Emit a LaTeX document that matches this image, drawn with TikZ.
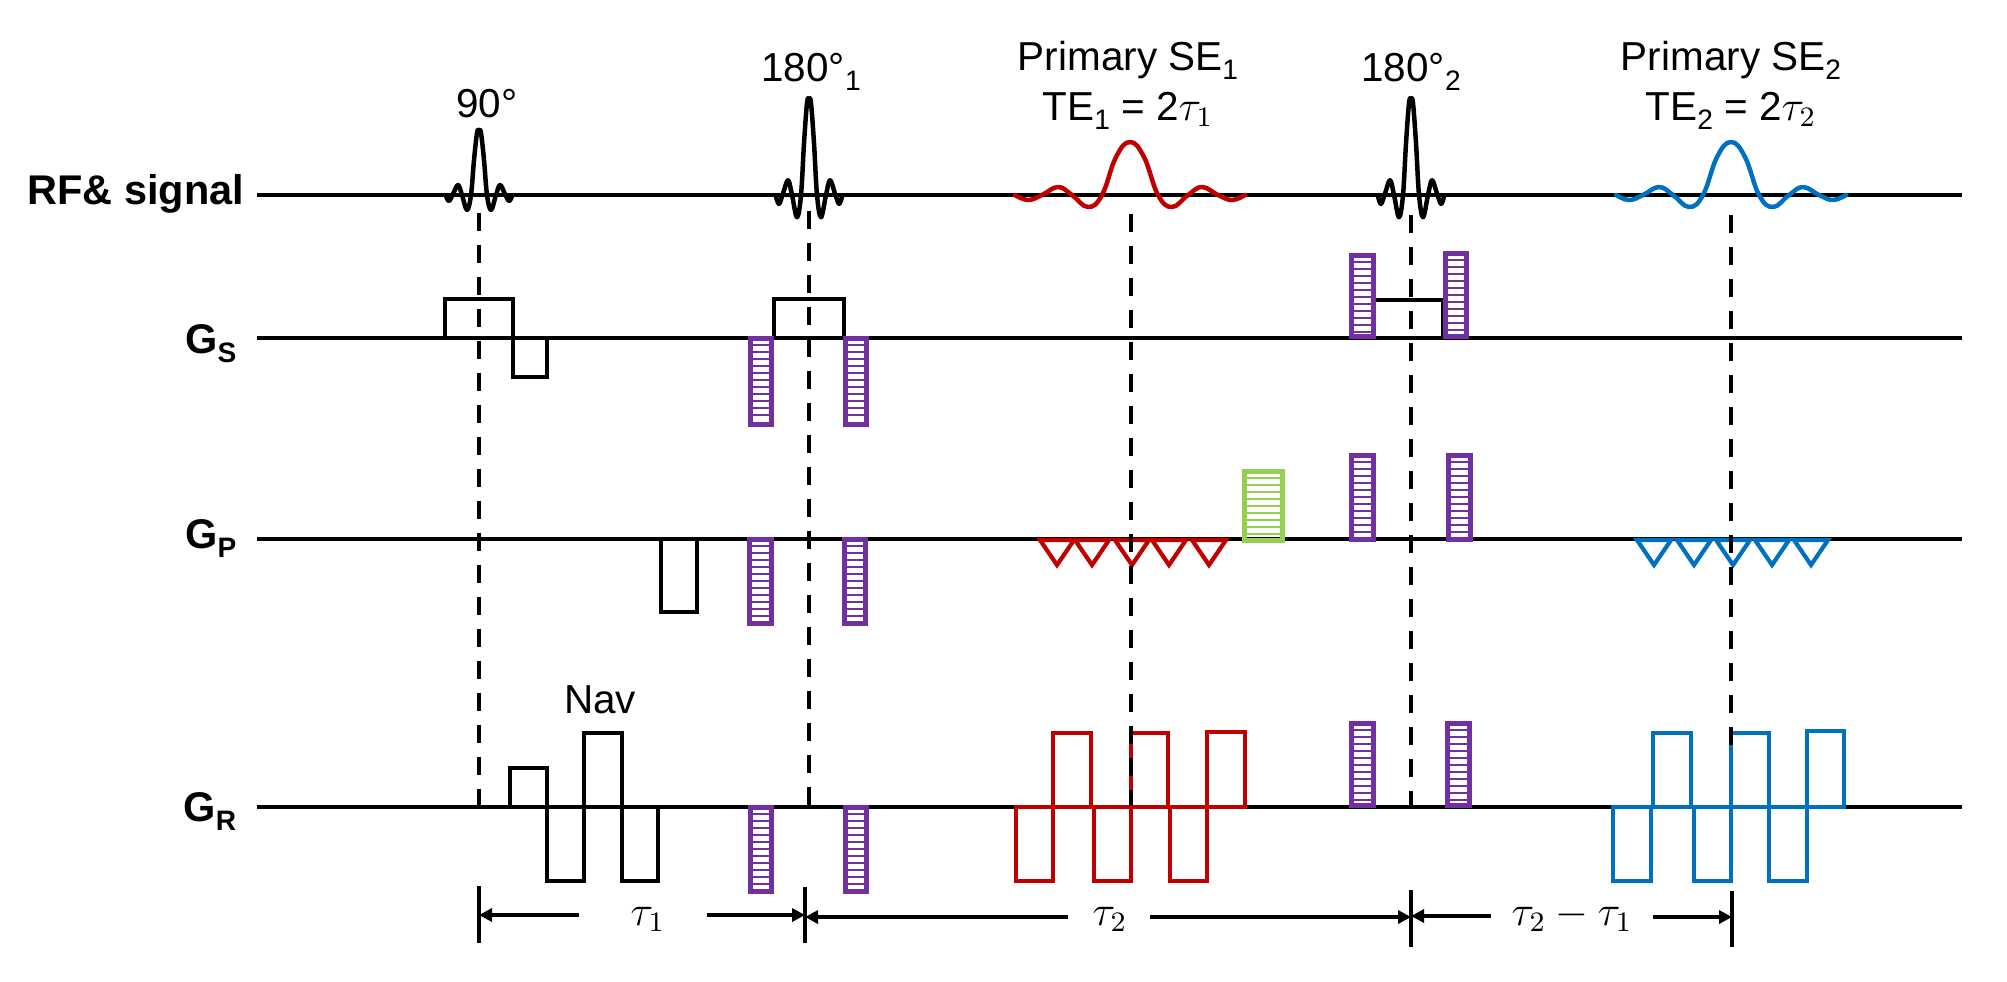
\documentclass[tikz,border=0pt]{standalone}
\usepackage{fontspec}
\setmainfont{Liberation Sans}
\usetikzlibrary{calc,positioning,arrows.meta}
\definecolor{echored}{HTML}{C00000}
\definecolor{echoblue}{HTML}{0070C0}
\definecolor{barpurple}{HTML}{7030A0}
\definecolor{bargreen}{HTML}{92D050}
\tikzstyle{seqline}  = [line width=0.04cm,black]
\tikzstyle{grad}     = [line width=0.042cm,miter limit=10]
\tikzstyle{wave}     = [line width=0.045cm,line cap=round,line join=round]
\tikzstyle{tedash}   = [line width=0.045cm,black,dash pattern=on 0.18cm off 0.14cm]
\tikzstyle{timetick} = [line width=0.045cm,black]
\tikzstyle{timearrow}= [line width=0.042cm,black,-{Triangle[length=0.13cm,width=0.13cm]}]
\tikzstyle{lbl}      = [font=\fontsize{11.5}{13}\selectfont,inner sep=0pt,anchor=base]
\tikzstyle{taulbl}   = [font=\fontsize{12}{14}\selectfont,inner sep=0pt,anchor=base]
\tikzstyle{axislbl}  = [font=\fontsize{11.8}{13}\selectfont\bfseries,inner sep=0pt,anchor=base east]
\newcommand{\lowsub}[1]{\raisebox{-2.8pt}{\fontsize{8}{8}\selectfont #1}}
% sinc shapes, drawn around the (x,y) of the scope
\newcommand{\rfpulse}[3]{\draw[wave,black,shift={(#1,#2)},yscale=-#3] plot[smooth,tension=0.6] coordinates
	{(-33,-1) (-30,-6) (-26,1) (-21,10) (-17,0) (-12,-15) (-8,0) (-5,35) (-2,62) (0,65) (2,62) (5,35) (8,0) (12,-15) (17,0) (21,10) (26,1) (30,-6) (33,-1)};}
\newcommand{\echosig}[3]{\draw[wave,#1,shift={(#2,#3)},yscale=-1] plot[smooth,tension=0.7] coordinates
	{(-115,0) (-102,-5) (-88,0) (-72,8) (-58,0) (-42,-12) (-28,0) (-14,38) (0,53) (14,38) (28,0) (42,-12) (58,0) (72,8) (88,0) (102,-5) (115,0)};}
% color, left, top, right, bottom
\newcommand{\stripebar}[5]{
	\pgfmathtruncatemacro{\nstripe}{(#5-#3)/7-0.4}
	\foreach \k in {1,...,\nstripe}
		\draw[#1,line width=0.014cm] (#2,{#3+7*\k}) -- (#4,{#3+7*\k});
	\draw[#1,line width=0.05cm] (#2,#3) rectangle (#4,#5);
}

\begin{document}
\begin{tikzpicture}[x=0.01cm,y=-0.01cm]
	\useasboundingbox (0,0) rectangle (2007,981);

	% time axes
	\foreach \name/\ypos in {rf/195,gs/338,gp/539,gr/807}{
		\coordinate (\name-start) at (257,\ypos);
		\coordinate (\name-end) at (1962,\ypos);
		\draw[seqline] (\name-start) -- (\name-end);
	}
	\node[axislbl] (rflbl) at (245,204) {RF\& signal};
	\node[axislbl] (gslbl) at (237,353) {G\lowsub{S}};
	\node[axislbl] (gplbl) at (237,548) {G\lowsub{P}};
	\node[axislbl] (grlbl) at (237,821) {G\lowsub{R}};

	% RF and echoes
	\rfpulse{479}{195}{1}
	\rfpulse{809}{195}{1.48}
	\rfpulse{1411}{195}{1.48}
	\echosig{echored}{1130}{195}
	\echosig{echoblue}{1731}{195}
	\node[lbl] (p90) at (487,117) {90°};
	\node[lbl] (p180a) at (811,81) {180°\lowsub{1}};
	\node[lbl] (p180b) at (1411,81) {180°\lowsub{2}};
	\node[lbl] (se1) at (1128,70) {Primary SE\lowsub{1}};
	\node[lbl] (te1) at (1128,120) {TE\lowsub{1} = 2$\tau_1$};
	\node[lbl] (se2) at (1731,70) {Primary SE\lowsub{2}};
	\node[lbl] (te2) at (1731,120) {TE\lowsub{2} = 2$\tau_2$};
	\node[lbl] (nav) at (600,713) {Nav};

	% slice select
	\draw[grad] (445,338) -- (445,299) -- (513,299) -- (513,377) -- (547,377) -- (547,338);
	\draw[grad] (774,338) -- (774,299) -- (844,299) -- (844,338);
	\draw[grad] (1375,300) -- (1443,300) -- (1443,338);
	\stripebar{barpurple}{750}{338}{771}{424}
	\stripebar{barpurple}{845}{338}{866}{424}
	\stripebar{barpurple}{1351}{255}{1373}{336}
	\stripebar{barpurple}{1445}{253}{1466}{336}

	% phase encode
	\draw[grad] (661,539) -- (661,612) -- (697,612) -- (697,539);
	\stripebar{barpurple}{749}{539}{771}{623}
	\stripebar{barpurple}{844}{539}{865}{623}
	\stripebar{barpurple}{1351}{455}{1373}{539}
	\stripebar{barpurple}{1448}{455}{1470}{539}
	\stripebar{bargreen}{1244}{471}{1282}{540}
	\foreach \apex in {1057,1092,1132,1169,1209}
		\draw[grad,echored] ({\apex-17},540) -- (\apex,565) -- ({\apex+17},540) -- cycle;
	\foreach \apex in {1654,1694,1733,1772,1811}
		\draw[grad,echoblue] ({\apex-17},540) -- (\apex,565) -- ({\apex+17},540) -- cycle;

	% readout
	\draw[grad] (510,807) -- (510,768) -- (547,768) -- (547,881) -- (584,881) -- (584,733) -- (622,733) -- (622,881) -- (658,881) -- (658,807);
	\stripebar{barpurple}{750}{807}{771}{891}
	\stripebar{barpurple}{845}{807}{866}{891}
	\stripebar{barpurple}{1351}{723}{1373}{805}
	\stripebar{barpurple}{1447}{723}{1469}{805}
	\foreach \xa/\xb/\ytop in {1016/1053/881,1053/1091/733,1094/1131/881,1131/1168/733,1170/1207/881,1207/1245/732}
		\draw[grad,echored] (\xa,807) rectangle (\xb,\ytop);
	\foreach \xa/\xb/\ytop in {1613/1651/881,1653/1691/733,1694/1731/881,1731/1769/733,1769/1807/881,1807/1844/731}
		\draw[grad,echoblue] (\xa,807) rectangle (\xb,\ytop);

	% echo time guides
	\foreach \name/\xpos/\ya/\yb in {ga/479/213/805,gb/809/211/805,gc/1131/214/806,gd/1411/215/806,ge/1731/215/745}{
		\coordinate (\name-top) at (\xpos,\ya);
		\coordinate (\name-bot) at (\xpos,\yb);
		\draw[tedash] (\name-top) -- (\name-bot);
	}

	% timing
	\foreach \name/\xpos/\ya/\yb in {ta/479/886/943,tb/805/887/943,tc/1411/890/947,td/1732/891/947}{
		\coordinate (\name-top) at (\xpos,\ya);
		\coordinate (\name-bot) at (\xpos,\yb);
		\draw[timetick] (\name-top) -- (\name-bot);
	}
	\node[taulbl] (tau1) at (648,925) {$\tau_1$};
	\node[taulbl] (tau2) at (1110,925) {$\tau_2$};
	\node[taulbl] (tau3) at (1572,925) {$\tau_2-\tau_1$};
	\coordinate (a1l) at (579,915);
	\coordinate (a1r) at (707,915);
	\coordinate (a2l) at (1068,917);
	\coordinate (a2r) at (1150,917);
	\coordinate (a3l) at (1491,916);
	\coordinate (a3r) at (1653,917);
	\draw[timearrow] (a1l) -- (ta-top|-a1l);
	\draw[timearrow] (a1r) -- (tb-top|-a1r);
	\draw[timearrow] (a2l) -- (tb-top|-a2l);
	\draw[timearrow] (a2r) -- (tc-top|-a2r);
	\draw[timearrow] (a3l) -- (tc-top|-a3l);
	\draw[timearrow] (a3r) -- (td-top|-a3r);
\end{tikzpicture}
\end{document}
